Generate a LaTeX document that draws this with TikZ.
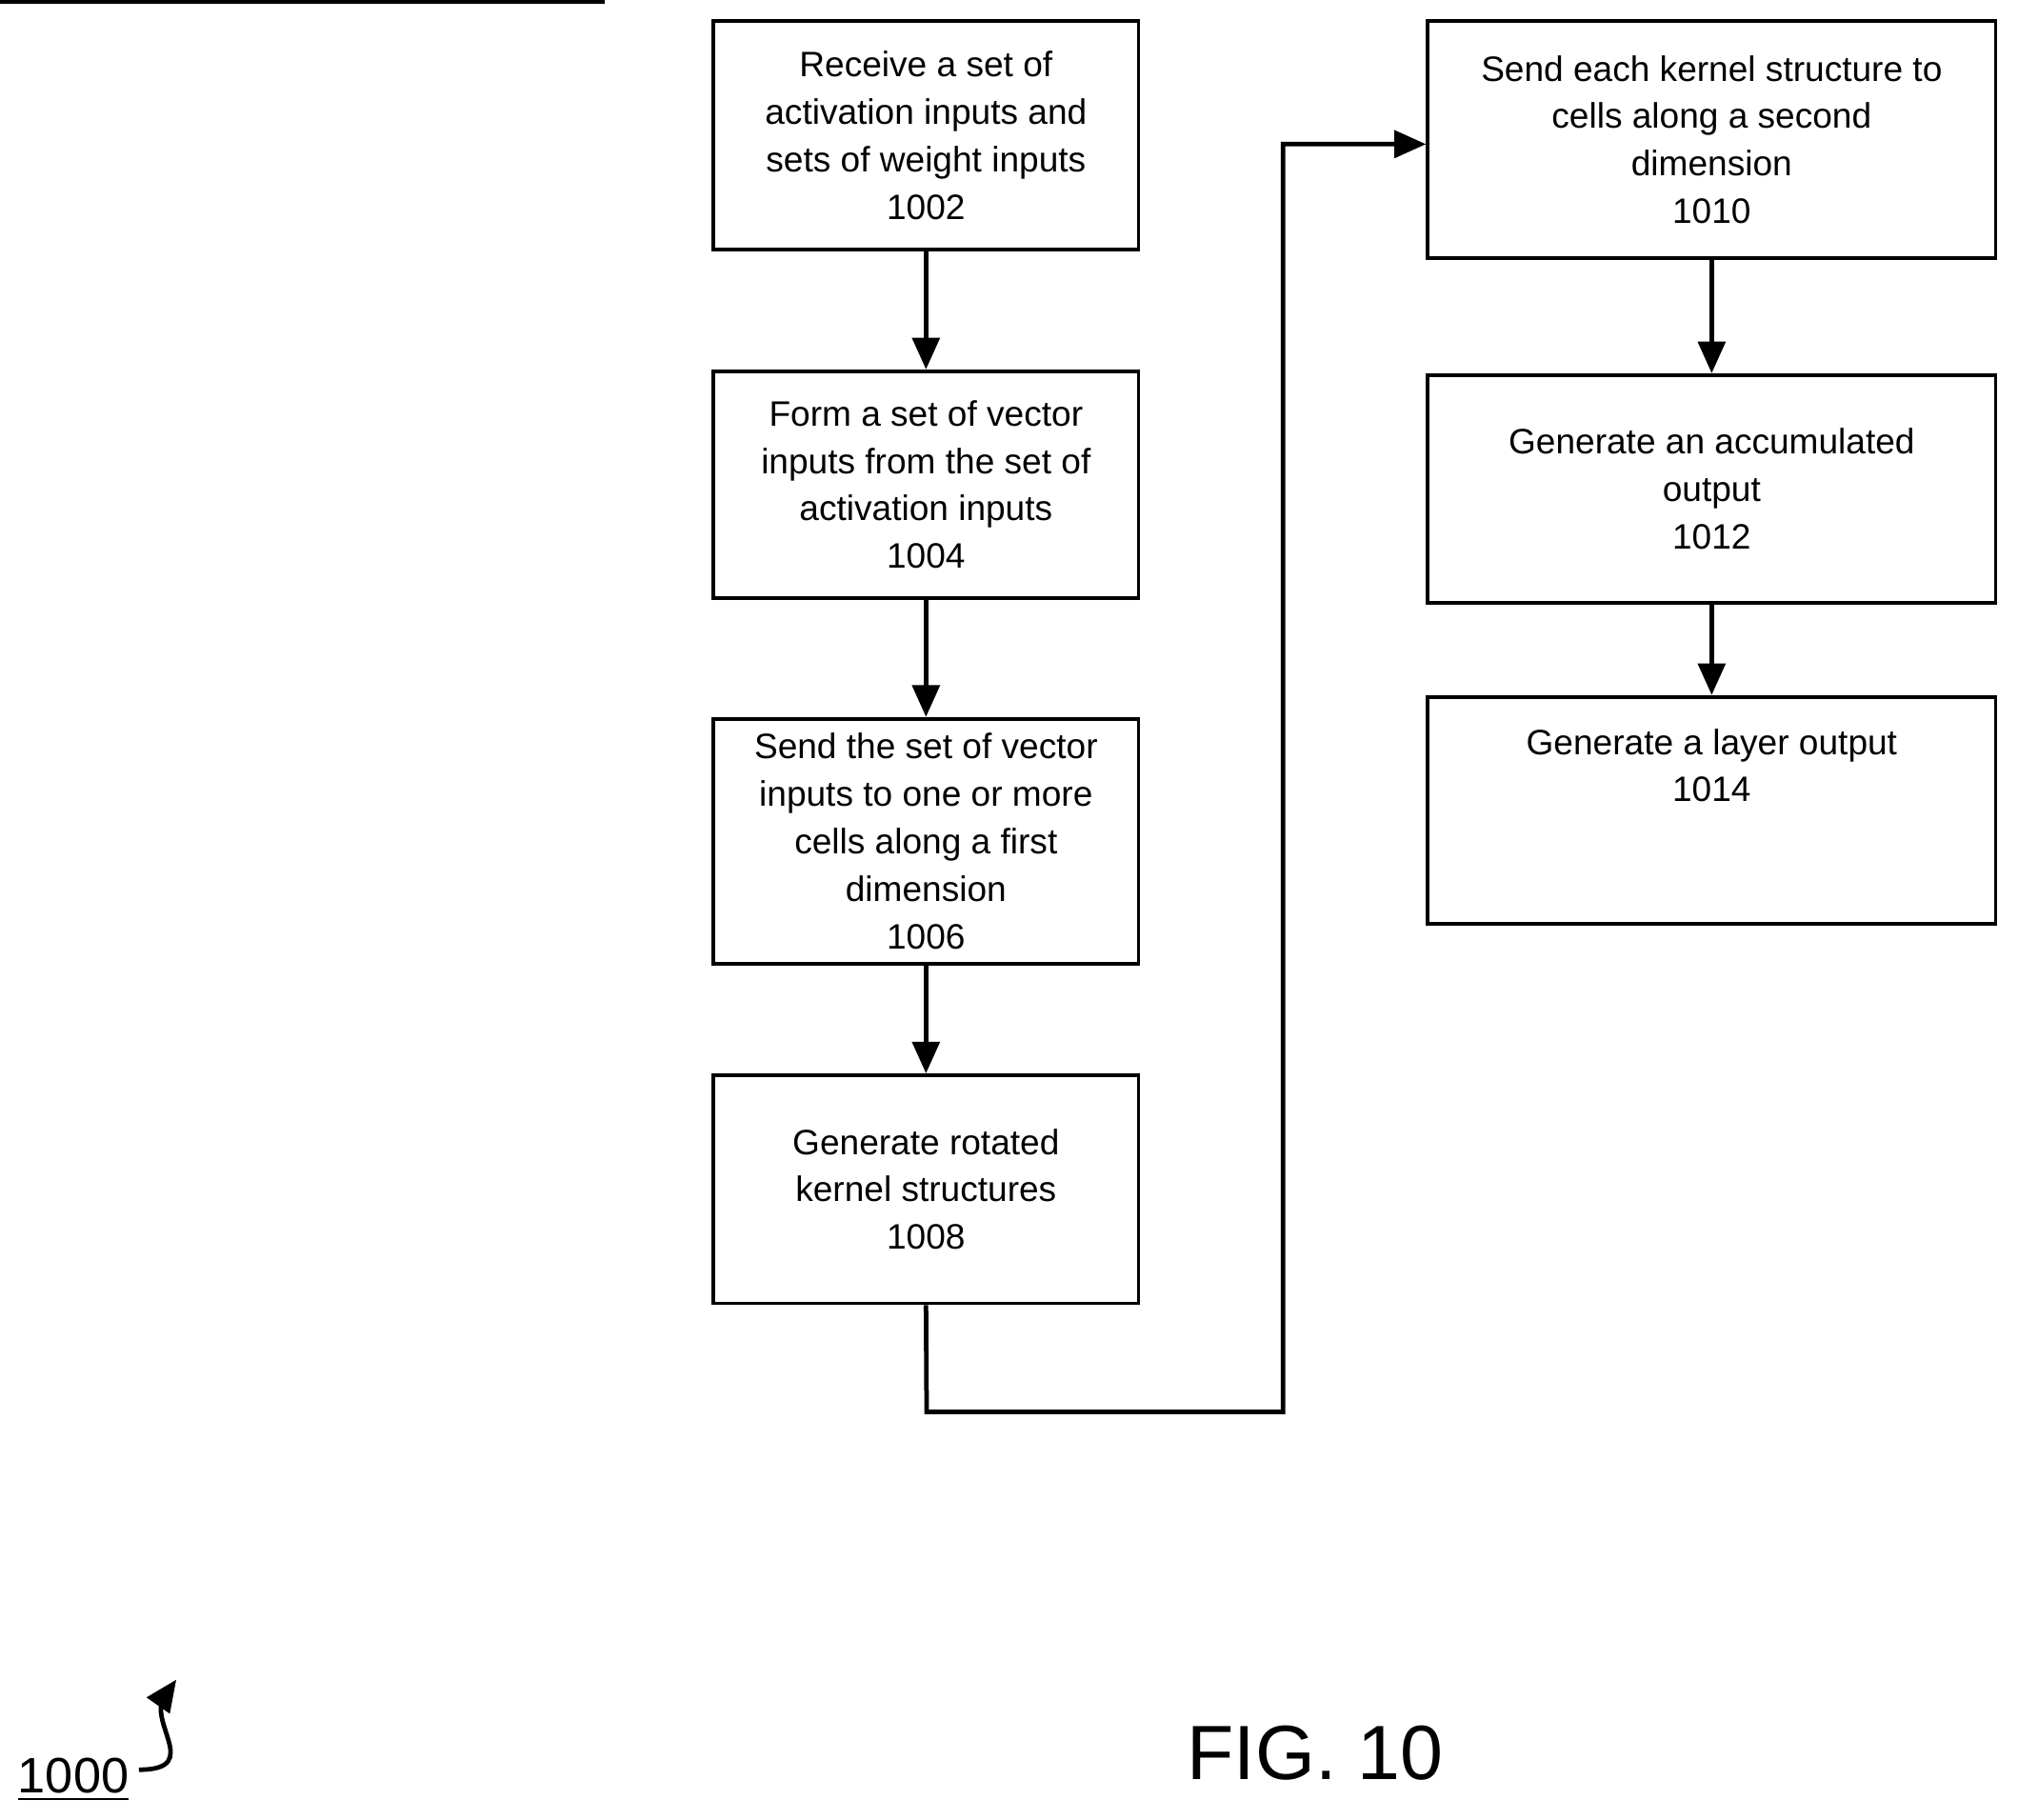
\documentclass[tikz,border=0pt]{standalone}
\usepackage{fontspec}
\setmainfont{Liberation Sans}
\usetikzlibrary{arrows.meta}
\begin{document}
\begin{tikzpicture}[x=0.01cm,y=-0.01cm,
 box/.style={draw,line width=0.8pt,align=center,font=\fontsize{7.8pt}{10.5pt}\selectfont,inner sep=0pt},
 arr/.style={-{Triangle[length=7pt,width=6pt]},line width=1pt}]
\useasboundingbox (0,0) rectangle (1568,1414);
\node[box,minimum width=333\pgflinewidth] at (0,0) {};
\newcommand{\bx}[6]{\node[box,minimum width=#3*0.01cm-0.8pt,minimum height=#5*0.01cm-#4*0.01cm-0.8pt,anchor=north west] (#1) at (#2,#4) {#6};}
\bx{b2}{553}{333}{15}{195}{Receive a set of\\activation inputs and\\sets of weight inputs\\1002}
\bx{b4}{553}{333}{287}{466}{Form a set of vector\\inputs from the set of\\activation inputs\\1004}
\bx{b6}{553}{333}{557}{750}{Send the set of vector\\inputs to one or more\\cells along a first\\dimension\\1006}
\bx{b8}{553}{333}{834}{1014}{Generate rotated\\kernel structures\\1008}
\bx{b10}{1108}{444}{15}{202}{Send each kernel structure to\\cells along a second\\dimension\\1010}
\bx{b12}{1108}{444}{290}{470}{Generate an accumulated\\output\\1012}
\bx{b14}{1108}{444}{540}{719}{Generate a layer output\\1014\\[1.2em]}
\draw[arr] (b2) -- (b4);
\draw[arr] (b4) -- (b6);
\draw[arr] (b6) -- (b8);
\draw[arr] (b10) -- (b12);
\draw[arr] (b12) -- (b14);
\coordinate (c1) at (720,1097);
\coordinate (c2) at (997,1097);
\coordinate (c3) at (997,112);
\draw[arr] (b8.south) -- (c1) -- (c2) -- (c3) -- (c3 -| b10.west);
\node[font=\fontsize{11pt}{13pt}\selectfont] (n1000) at (57,1383) {\underline{1000}};
\coordinate (sq1) at (108,1375);
\coordinate (sq2) at (137,1305);
\draw[line width=1pt,-{Triangle[length=7pt,width=6pt]}] (sq1) .. controls (160,1375) and (110,1335) .. (130,1315) -- (sq2);
\node[font=\fontsize{17pt}{20pt}\selectfont] (fig) at (1022,1362) {FIG. 10};
\end{tikzpicture}
\end{document}
